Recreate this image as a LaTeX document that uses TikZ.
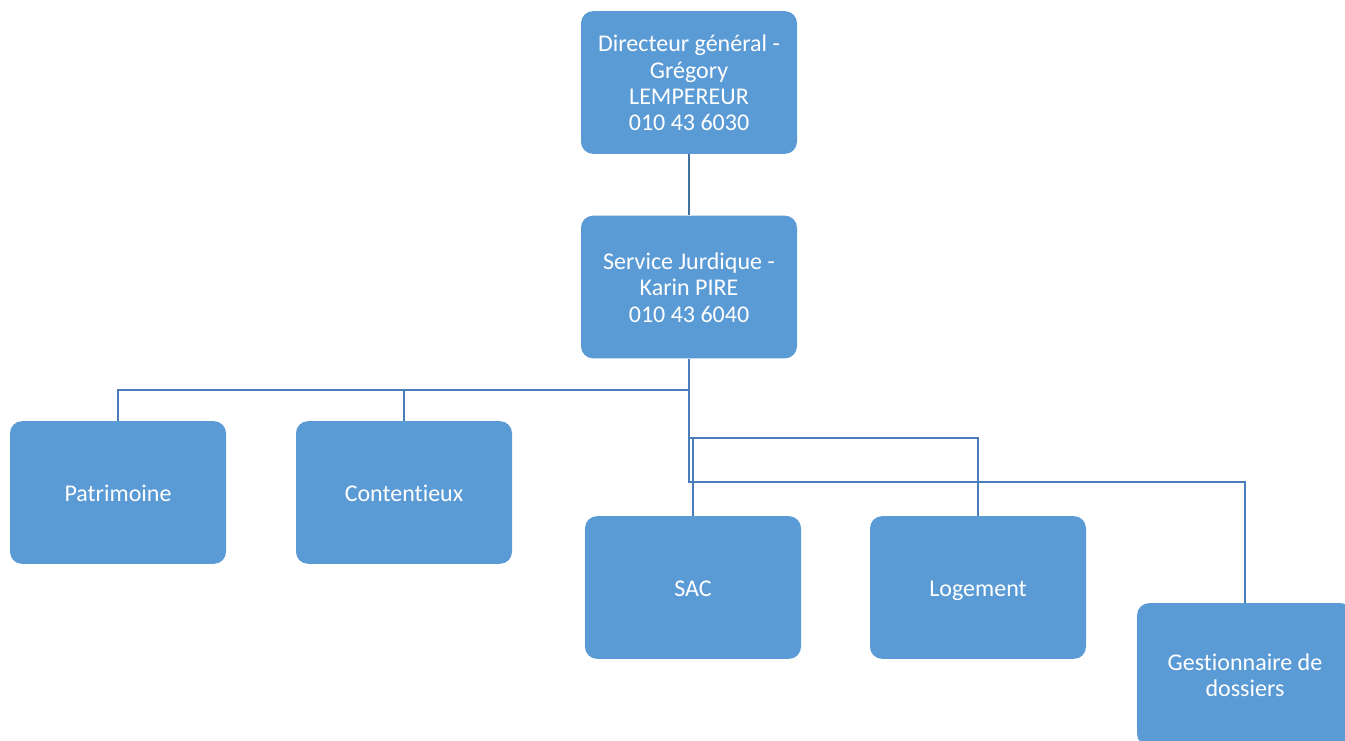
\documentclass[tikz,border=0pt]{standalone}
\usepackage{fontspec}
\setmainfont{Carlito}[Ligatures=NoCommon]
\definecolor{boxblue}{HTML}{5B9BD5}
\definecolor{lineblue}{HTML}{4A7EBB}
\definecolor{darkline}{HTML}{41719C}
\begin{document}
\begin{tikzpicture}[x=0.75pt,y=-0.75pt,
	box/.style={fill=boxblue, rounded corners=9pt, minimum width=162pt, minimum height=107pt, inner sep=0pt, text=white, text width=150pt, align=flush center, font=\fontsize{18}{19.7}\selectfont, execute at begin node={\rule{0pt}{19pt}}, execute at end node=\strut},
	link/.style={draw=lineblue, line width=1.6pt}]
	\clip (0,0) rectangle (1345,740);
	% boxes
	\node[box] (dir) at (689,82.5) {Directeur général -\\Grégory\\LEMPEREUR\\010 43 6030};
	\node[box] (jur) at (689,287) {Service Jurdique -\\Karin PIRE\\ 010 43 6040};
	\node[box] (pat) at (118,492.5) {Patrimoine};
	\node[box] (cont) at (404,492.5) {Contentieux};
	\node[box] (sac) at (693,587.5) {SAC};
	\node[box] (log) at (978,587.5) {Logement};
	\node[box] (gest) at (1245,674.5) {Gestionnaire de\\dossiers};
	% connectors
	\draw[link, draw=darkline] (dir) -- (jur);
	\draw[link] (jur.south) -- ++(0,31) -| (pat.north);
	\draw[link] (jur.south) -- ++(0,31) -| (cont.north);
	\draw[link] (jur.south) -- ++(0,79) -| (sac.north);
	\draw[link] (jur.south) -- ++(0,79) -| (log.north);
	\draw[link] (jur.south) -- ++(0,123) -| (gest.north);
\end{tikzpicture}
\end{document}
